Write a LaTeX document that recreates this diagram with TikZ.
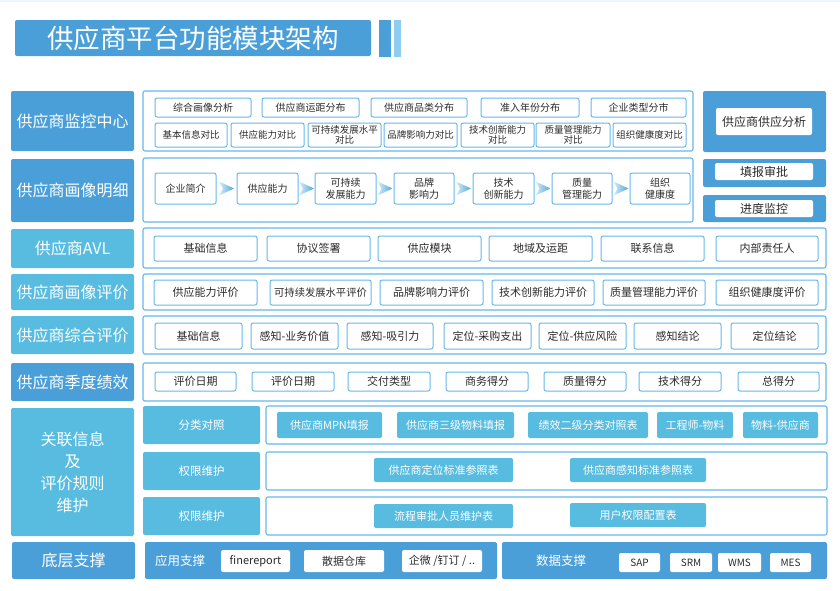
\documentclass[tikz,border=0pt]{standalone}
\usepackage{fontspec}
\setmainfont{Noto Sans CJK SC}
\definecolor{dblue}{HTML}{4A9FD9}
\definecolor{cblue}{HTML}{58BCE0}
\definecolor{lineb}{HTML}{68B8E8}
\definecolor{lbar}{HTML}{8FCDF0}
\definecolor{txt}{HTML}{2B2B2B}
\definecolor{topstrip}{HTML}{EDF6FB}
\definecolor{chevl}{HTML}{D4ECF9}
\definecolor{chevr}{HTML}{4FA6DC}
\newcommand\fs[1]{\fontsize{#1}{#1}\selectfont}
\newcommand\mybox[7]{%
  \pgfmathsetmacro\bw{#5-#3}\pgfmathsetmacro\bh{#6-#4}%
  \node[#1, minimum width=\bw pt, minimum height=\bh pt] (#2) at ({(#3+#5)/2},{(#4+#6)/2}) {#7};}
\newcommand\chev[2]{%
  \shade[left color=chevl, right color=chevr] ({#1-7.5},{#2-7}) -- ({#1+7.5},{#2}) -- ({#1-7.5},{#2+7}) -- ({#1-3.5},{#2}) -- cycle;}
\tikzset{
  base/.style={inner sep=0pt, outer sep=0pt, align=center, rounded corners=2pt},
  dlab/.style={base, fill=dblue, text=white, font=\fontsize{16}{22}\selectfont},
  clab/.style={base, fill=cblue, text=white, font=\fontsize{16}{22}\selectfont},
  slab/.style={base, fill=cblue, text=white, font=\fs{11.5}},
  frame/.style={base, draw=lineb, line width=1.1pt, fill=white},
  dframe/.style={base, fill=dblue},
  item/.style={base, draw=lineb, line width=1pt, fill=white, text=txt, font=\fontsize{10}{12.5}\selectfont},
  itemb/.style={item, font=\fs{9.5}},
  itemm/.style={item, font=\fs{11}},
  citem/.style={base, fill=cblue, text=white, font=\fs{11}},
  witem/.style={base, fill=white, text=txt, font=\fs{12}},
  wsmall/.style={base, fill=white, text=txt, font=\fs{11}},
  wtiny/.style={base, fill=white, text=txt, font=\fs{10}},
  wtxt/.style={inner sep=0pt, text=white, font=\fs{12.5}, anchor=west},
  ttl/.style={base, fill=dblue, text=white, font=\fs{26.5}},
}
\begin{document}
\begin{tikzpicture}[x=1pt, y=-1pt]
\useasboundingbox (0,0) rectangle (840,590);
\fill[white] (0,0) rectangle (840,590);
\fill[topstrip] (0,0) rectangle (840,2);
% title
\mybox{ttl}{title}{15}{20}{371}{56}{供应商平台功能模块架构}
\fill[dblue] (379,20) rectangle (391,57);
\fill[lbar] (394,20) rectangle (401,57);
% row 1
\mybox{dlab}{l1}{11}{91}{134}{151}{供应商监控中心}
\mybox{frame}{f1}{143}{91}{693}{151}{}
\mybox{item}{i11}{155}{98}{251}{117}{综合画像分析}
\mybox{item}{i12}{262}{98}{359}{117}{供应商运距分布}
\mybox{item}{i13}{371}{98}{467}{117}{供应商品类分布}
\mybox{item}{i14}{481}{98}{579}{117}{准入年份分布}
\mybox{item}{i15}{591}{98}{686}{117}{企业类型分市}
\mybox{itemb}{i16}{155}{123}{227}{147}{基本信息对比}
\mybox{itemb}{i17}{231}{123}{304}{147}{供应能力对比}
\mybox{itemb}{i18}{308}{123}{381}{147}{可持续发展水平\\对比}
\mybox{itemb}{i19}{384}{123}{457}{147}{品牌影响力对比}
\mybox{itemb}{i1a}{461}{123}{534}{147}{技术创新能力\\对比}
\mybox{itemb}{i1b}{536}{123}{610}{147}{质量管理能力\\对比}
\mybox{itemb}{i1c}{613}{123}{686}{147}{组织健康度对比}
% right side
\mybox{dframe}{r1}{703}{91}{826}{152}{}
\mybox{witem}{r1i}{716}{108}{812}{135}{供应商供应分析}
\mybox{dframe}{r2}{703}{159}{826}{187}{}
\mybox{witem}{r2i}{715}{163}{813}{180}{填报审批}
\mybox{dframe}{r3}{703}{195}{826}{222}{}
\mybox{witem}{r3i}{715}{200}{813}{217}{进度监控}
% row 2
\mybox{dlab}{l2}{11}{159}{134}{222}{供应商画像明细}
\mybox{frame}{f2}{143}{158}{693}{222}{}
\mybox{item}{i21}{155}{173}{216}{204}{企业简介}
\mybox{item}{i22}{237}{173}{298}{204}{供应能力}
\mybox{item}{i23}{315}{173}{376}{204}{可持续\\发展能力}
\mybox{item}{i24}{394}{173}{454}{204}{品牌\\影响力}
\mybox{item}{i25}{473}{173}{534}{204}{技术\\创新能力}
\mybox{item}{i26}{552}{173}{612}{204}{质量\\管理能力}
\mybox{item}{i27}{630}{173}{690}{204}{组织\\健康度}
\chev{226.5}{188.5}
\chev{306.5}{188.5}
\chev{385}{188.5}
\chev{463.5}{188.5}
\chev{543}{188.5}
\chev{621}{188.5}
% row 3
\mybox{clab}{l3}{11}{229}{134}{268}{供应商AVL}
\mybox{frame}{f3}{143}{228}{826}{268}{}
\mybox{itemm}{i31}{154}{236}{257}{261}{基础信息}
\mybox{itemm}{i32}{267}{236}{370}{261}{协议签署}
\mybox{itemm}{i33}{378}{236}{481}{261}{供应模块}
\mybox{itemm}{i34}{489}{236}{592}{261}{地域及运距}
\mybox{itemm}{i35}{601}{236}{704}{261}{联系信息}
\mybox{itemm}{i36}{716}{236}{818}{261}{内部责任人}
% row 4
\mybox{clab}{l4}{11}{274}{134}{310}{供应商画像评价}
\mybox{frame}{f4}{143}{274}{826}{310}{}
\mybox{itemm}{i41}{154}{280}{257}{305}{供应能力评价}
\mybox{item}{i42}{270}{280}{371}{305}{\fs{10.3}可持续发展水平评价}
\mybox{itemm}{i43}{380}{280}{483}{305}{品牌影响力评价}
\mybox{itemm}{i44}{492}{280}{594}{305}{技术创新能力评价}
\mybox{itemm}{i45}{603}{280}{705}{305}{质量管理能力评价}
\mybox{itemm}{i46}{716}{280}{818}{305}{组织健康度评价}
% row 5
\mybox{clab}{l5}{11}{316}{134}{354}{供应商综合评价}
\mybox{frame}{f5}{143}{316}{826}{354}{}
\mybox{itemm}{i51}{155}{323}{242}{349}{基础信息}
\mybox{itemm}{i52}{251}{323}{338}{349}{感知-业务价值}
\mybox{itemm}{i53}{347}{323}{433}{349}{感知-吸引力}
\mybox{itemm}{i54}{444}{323}{531}{349}{定位-采购支出}
\mybox{itemm}{i55}{539}{323}{626}{349}{定位-供应风险}
\mybox{itemm}{i56}{634}{323}{721}{349}{感知结论}
\mybox{itemm}{i57}{731}{323}{818}{349}{定位结论}
% row 6
\mybox{dlab}{l6}{11}{363}{134}{401}{供应商季度绩效}
\mybox{frame}{f6}{143}{363}{826}{401}{}
\mybox{itemm}{i61}{155}{372}{236}{391}{评价日期}
\mybox{itemm}{i62}{252}{372}{334}{391}{评价日期}
\mybox{itemm}{i63}{348}{372}{430}{391}{交付类型}
\mybox{itemm}{i64}{446}{372}{528}{391}{商务得分}
\mybox{itemm}{i65}{544}{372}{626}{391}{质量得分}
\mybox{itemm}{i66}{639}{372}{721}{391}{技术得分}
\mybox{itemm}{i67}{738}{372}{819}{391}{总得分}
% row 7
\mybox{clab}{l7}{11}{408}{134}{536}{关联信息\\及\\评价规则\\维护}
\mybox{slab}{s1}{143}{406}{260}{444}{分类对照}
\mybox{slab}{s2}{143}{452}{260}{490}{权限维护}
\mybox{slab}{s3}{143}{497}{260}{535}{权限维护}
\mybox{frame}{f7a}{266}{406}{827}{444}{}
\mybox{frame}{f7b}{266}{452}{827}{490}{}
\mybox{frame}{f7c}{266}{497}{827}{535}{}
\mybox{citem}{i71}{277}{412}{382}{438}{供应商MPN填报}
\mybox{citem}{i72}{397}{412}{514}{438}{供应商三级物料填报}
\mybox{citem}{i73}{528}{412}{648}{438}{绩效二级分类对照表}
\mybox{citem}{i74}{657}{412}{733}{438}{工程师-物料}
\mybox{citem}{i75}{743}{412}{818}{438}{物料-供应商}
\mybox{citem}{i76}{374}{458}{513}{482}{供应商定位标准参照表}
\mybox{citem}{i77}{570}{458}{706}{482}{供应商感知标准参照表}
\mybox{citem}{i78}{374}{504}{513}{528}{流程审批人员维护表}
\mybox{citem}{i79}{570}{503}{706}{527}{用户权限配置表}
% row 8
\mybox{dlab}{l8}{12}{542}{135}{579}{底层支撑}
\mybox{dframe}{a1}{145}{542}{497}{579}{}
\node[wtxt] (a1t) at (155,560.5) {应用支撑};
\mybox{wsmall}{w1}{221}{550}{290}{572}{finereport}
\mybox{wsmall}{w2}{304}{550}{384}{572}{散据仓库}
\mybox{wsmall}{w3}{402}{550}{482}{572}{企微 /钉订 / ..}
\mybox{dframe}{d1}{502}{542}{827}{579}{}
\node[wtxt] (d1t) at (536,560.5) {数据支撑};
\mybox{wtiny}{w4}{619}{553}{660}{572}{SAP}
\mybox{wtiny}{w5}{670}{553}{712}{572}{SRM}
\mybox{wtiny}{w6}{718}{553}{761}{572}{WMS}
\mybox{wtiny}{w7}{770}{553}{811}{572}{MES}
\end{tikzpicture}
\end{document}
